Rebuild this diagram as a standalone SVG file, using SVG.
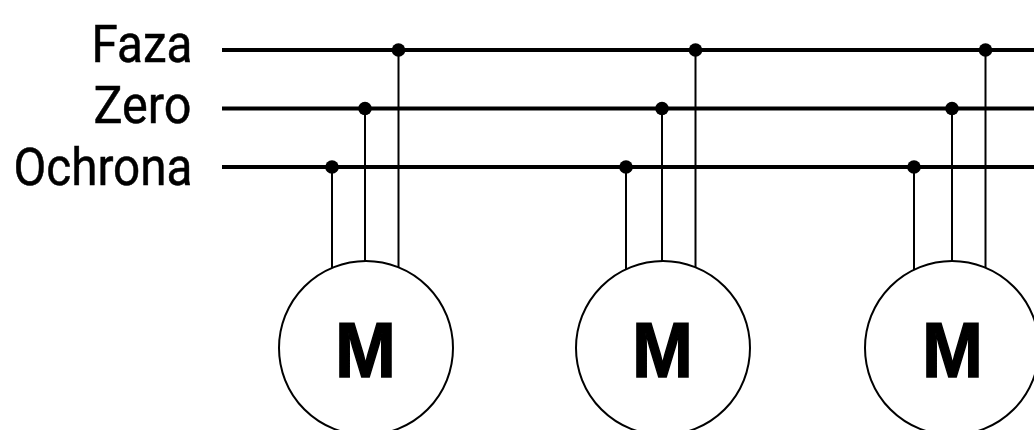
<svg xmlns="http://www.w3.org/2000/svg" width="1034" height="430" viewBox="0 0 1034 430">
<style>
.bus{stroke:#000;stroke-width:4.200;fill:none}
.w{stroke:#000;stroke-width:2;fill:none}
.j{fill:#000}
.c{fill:#fff;stroke:#000;stroke-width:2}
.l{font-family:Roboto,"Liberation Sans",sans-serif;font-size:51px;fill:#000;text-anchor:end;stroke:#000;stroke-width:.5}
.m{font-family:"Liberation Sans",sans-serif;font-weight:700;font-size:78px;fill:#000;stroke:#000;stroke-width:1.5;text-anchor:middle}
</style>
<g id="connectors">
<path class="bus" d="M222 50H1034M222 108.500H1034M222 167H1034"/>
<path class="w" d="M332 167V270M365 108.500V262M398.500 50V268M626 167V270M662 108.500V262M695.500 50V268M914 167V270M952 108.500V262M985.500 50V268"/>
<circle class="j" cx="398.500" cy="50" r="6.800"/><circle class="j" cx="365" cy="108.500" r="6.800"/><circle class="j" cx="332" cy="167" r="6.800"/>
<circle class="j" cx="695.500" cy="50" r="6.800"/><circle class="j" cx="662" cy="108.500" r="6.800"/><circle class="j" cx="626" cy="167" r="6.800"/>
<circle class="j" cx="985.500" cy="50" r="6.800"/><circle class="j" cx="952" cy="108.500" r="6.800"/><circle class="j" cx="914" cy="167" r="6.800"/>
</g>
<g id="label-faza"><text class="l" x="192.500" y="62" textLength="101" lengthAdjust="spacingAndGlyphs">Faza</text></g>
<g id="label-zero"><text class="l" x="191.500" y="123" textLength="98" lengthAdjust="spacingAndGlyphs">Zero</text></g>
<g id="label-ochrona"><text class="l" x="192.500" y="185" textLength="179" lengthAdjust="spacingAndGlyphs">Ochrona</text></g>
<g id="motor-1"><circle class="c" cx="366" cy="348" r="87"/><text class="m" x="365.500" y="376.500" textLength="61" lengthAdjust="spacingAndGlyphs">M</text></g>
<g id="motor-2"><circle class="c" cx="663" cy="348" r="87"/><text class="m" x="662.500" y="376.500" textLength="61" lengthAdjust="spacingAndGlyphs">M</text></g>
<g id="motor-3"><circle class="c" cx="952" cy="348" r="87"/><text class="m" x="952.500" y="376.500" textLength="61" lengthAdjust="spacingAndGlyphs">M</text></g>
</svg>
